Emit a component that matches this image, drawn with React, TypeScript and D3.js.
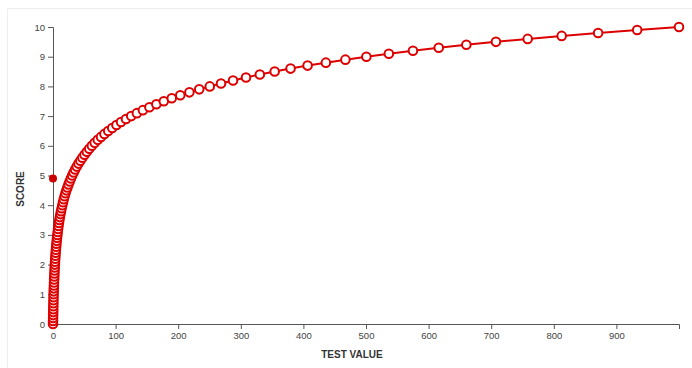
import * as d3 from "d3";
import { useEffect, useRef } from "react";

// test values, one per score step
const testValues = [
	0, 0.07, 0.15, 0.23, 0.32, 0.41, 0.51, 0.62, 0.74, 0.86,
	1.0, 1.14, 1.29, 1.46, 1.63, 1.82, 2.02, 2.24, 2.47, 2.72,
	2.98, 3.27, 3.57, 3.9, 4.25, 4.63, 5.03, 5.46, 5.92, 6.42,
	6.95, 7.51, 8.12, 8.78, 9.48, 10.2, 11.0, 11.9, 12.8, 13.8,
	14.9, 16.0, 17.2, 18.5, 19.9, 21.4, 23.0, 24.7, 26.6, 28.5,
	30.6, 32.9, 35.3, 37.9, 40.7, 43.7, 46.9, 50.3, 54.0, 57.9,
	62.1, 66.6, 71.5, 76.7, 82.2, 88.2, 94.6, 101.4, 108.7, 116.6,
	125.0, 134.0, 143.6, 154.0, 165.1, 177.0, 189.7, 203.3, 217.9, 233.6,
	250.4, 268.4, 287.6, 308.3, 330.4, 354.1, 379.5, 406.7, 435.9, 467.1,
	500.6, 536.5, 575.0, 616.2, 660.3, 707.6, 758.3, 812.6, 870.8, 933.2,
	1000,
];

const scores = [
	0, 0.1, 0.2, 0.3, 0.4, 0.5, 0.6, 0.7, 0.8, 0.9,
	1.0, 1.1, 1.2, 1.3, 1.4, 1.5, 1.6, 1.7, 1.8, 1.9,
	2.0, 2.1, 2.2, 2.3, 2.4, 2.5, 2.6, 2.7, 2.8, 2.9,
	3.0, 3.1, 3.2, 3.3, 3.4, 3.5, 3.6, 3.7, 3.8, 3.9,
	4.0, 4.1, 4.2, 4.3, 4.4, 4.5, 4.6, 4.7, 4.8, 4.9,
	5.0, 5.1, 5.2, 5.3, 5.4, 5.5, 5.6, 5.7, 5.8, 5.9,
	6.0, 6.1, 6.2, 6.3, 6.4, 6.5, 6.6, 6.7, 6.8, 6.9,
	7.0, 7.1, 7.2, 7.3, 7.4, 7.5, 7.6, 7.7, 7.8, 7.9,
	8.0, 8.1, 8.2, 8.3, 8.4, 8.5, 8.6, 8.7, 8.8, 8.9,
	9.0, 9.1, 9.2, 9.3, 9.4, 9.5, 9.6, 9.7, 9.8, 9.9,
	10,
];

const xTicks = [0, 100, 200, 300, 400, 500, 600, 700, 800, 900];
const yTicks = [0, 1, 2, 3, 4, 5, 6, 7, 8, 9, 10];

// the highlighted current value on the axis
const marker = { test: 0, score: 4.9 };

const W = 692;
const H = 368;

export default function App() {
	const ref = useRef<SVGSVGElement | null>(null);

	useEffect(() => {
		if (!ref.current) return;
		const svg = d3.select(ref.current);
		svg.selectAll("*").remove();

		const x = d3.scaleLinear().domain([0, 1000]).range([53, 679]);
		const y = d3.scaleLinear().domain([0, 10]).range([324, 27]);

		// light frame
		svg.append("line").attr("x1", 7.5).attr("x2", W).attr("y1", 8.5).attr("y2", 8.5).attr("stroke", "#eeeeee");
		svg.append("line").attr("x1", 7.5).attr("x2", 7.5).attr("y1", 8.5).attr("y2", H).attr("stroke", "#eeeeee");

		const styleAxis = (g: d3.Selection<SVGGElement, unknown, null, undefined>) => {
			g.selectAll(".domain").attr("stroke", "#555");
			g.selectAll(".tick line").attr("stroke", "#555");
			g.selectAll(".tick text")
				.attr("fill", "#444")
				.attr("font-family", "Liberation Sans, Arial, sans-serif")
				.attr("font-size", 9.5);
		};

		svg
			.append("g")
			.attr("transform", `translate(0,${y(0)})`)
			.call(d3.axisBottom(x).tickValues(xTicks).tickSize(5).tickPadding(3))
			.call(styleAxis);

		svg
			.append("g")
			.attr("transform", `translate(${x(0)},0)`)
			.call(d3.axisLeft(y).tickValues(yTicks).tickSize(5).tickPadding(3))
			.call(styleAxis);

		svg
			.append("text")
			.attr("x", 352)
			.attr("y", 358)
			.attr("text-anchor", "middle")
			.attr("font-family", "Liberation Sans, Arial, sans-serif")
			.attr("font-weight", "bold")
			.attr("font-size", 10)
			.attr("fill", "#333")
			.text("TEST VALUE");

		svg
			.append("text")
			.attr("transform", `translate(24,189) rotate(-90)`)
			.attr("text-anchor", "middle")
			.attr("font-family", "Liberation Sans, Arial, sans-serif")
			.attr("font-weight", "bold")
			.attr("font-size", 10)
			.attr("fill", "#333")
			.text("SCORE");

		const data = testValues.map((t, i) => ({ t, s: scores[i] }));

		const line = d3
			.line<{ t: number; s: number }>()
			.x((d) => x(d.t))
			.y((d) => y(d.s));

		svg
			.append("path")
			.datum(data)
			.attr("fill", "none")
			.attr("stroke", "#dd0000")
			.attr("stroke-width", 2)
			.attr("d", line);

		svg
			.append("g")
			.selectAll("circle")
			.data(data)
			.join("circle")
			.attr("cx", (d) => x(d.t))
			.attr("cy", (d) => y(d.s))
			.attr("r", 4.3)
			.attr("fill", "#fff")
			.attr("stroke", "#dd0000")
			.attr("stroke-width", 2);

		svg
			.append("circle")
			.attr("cx", x(marker.test))
			.attr("cy", y(marker.score))
			.attr("r", 4)
			.attr("fill", "#cc0000");
	}, []);

	return (
		<svg
			ref={ref}
			width={W}
			height={H}
			style={{ position: "absolute", left: 0, top: 0, background: "#fff" }}
		></svg>
	);
}
